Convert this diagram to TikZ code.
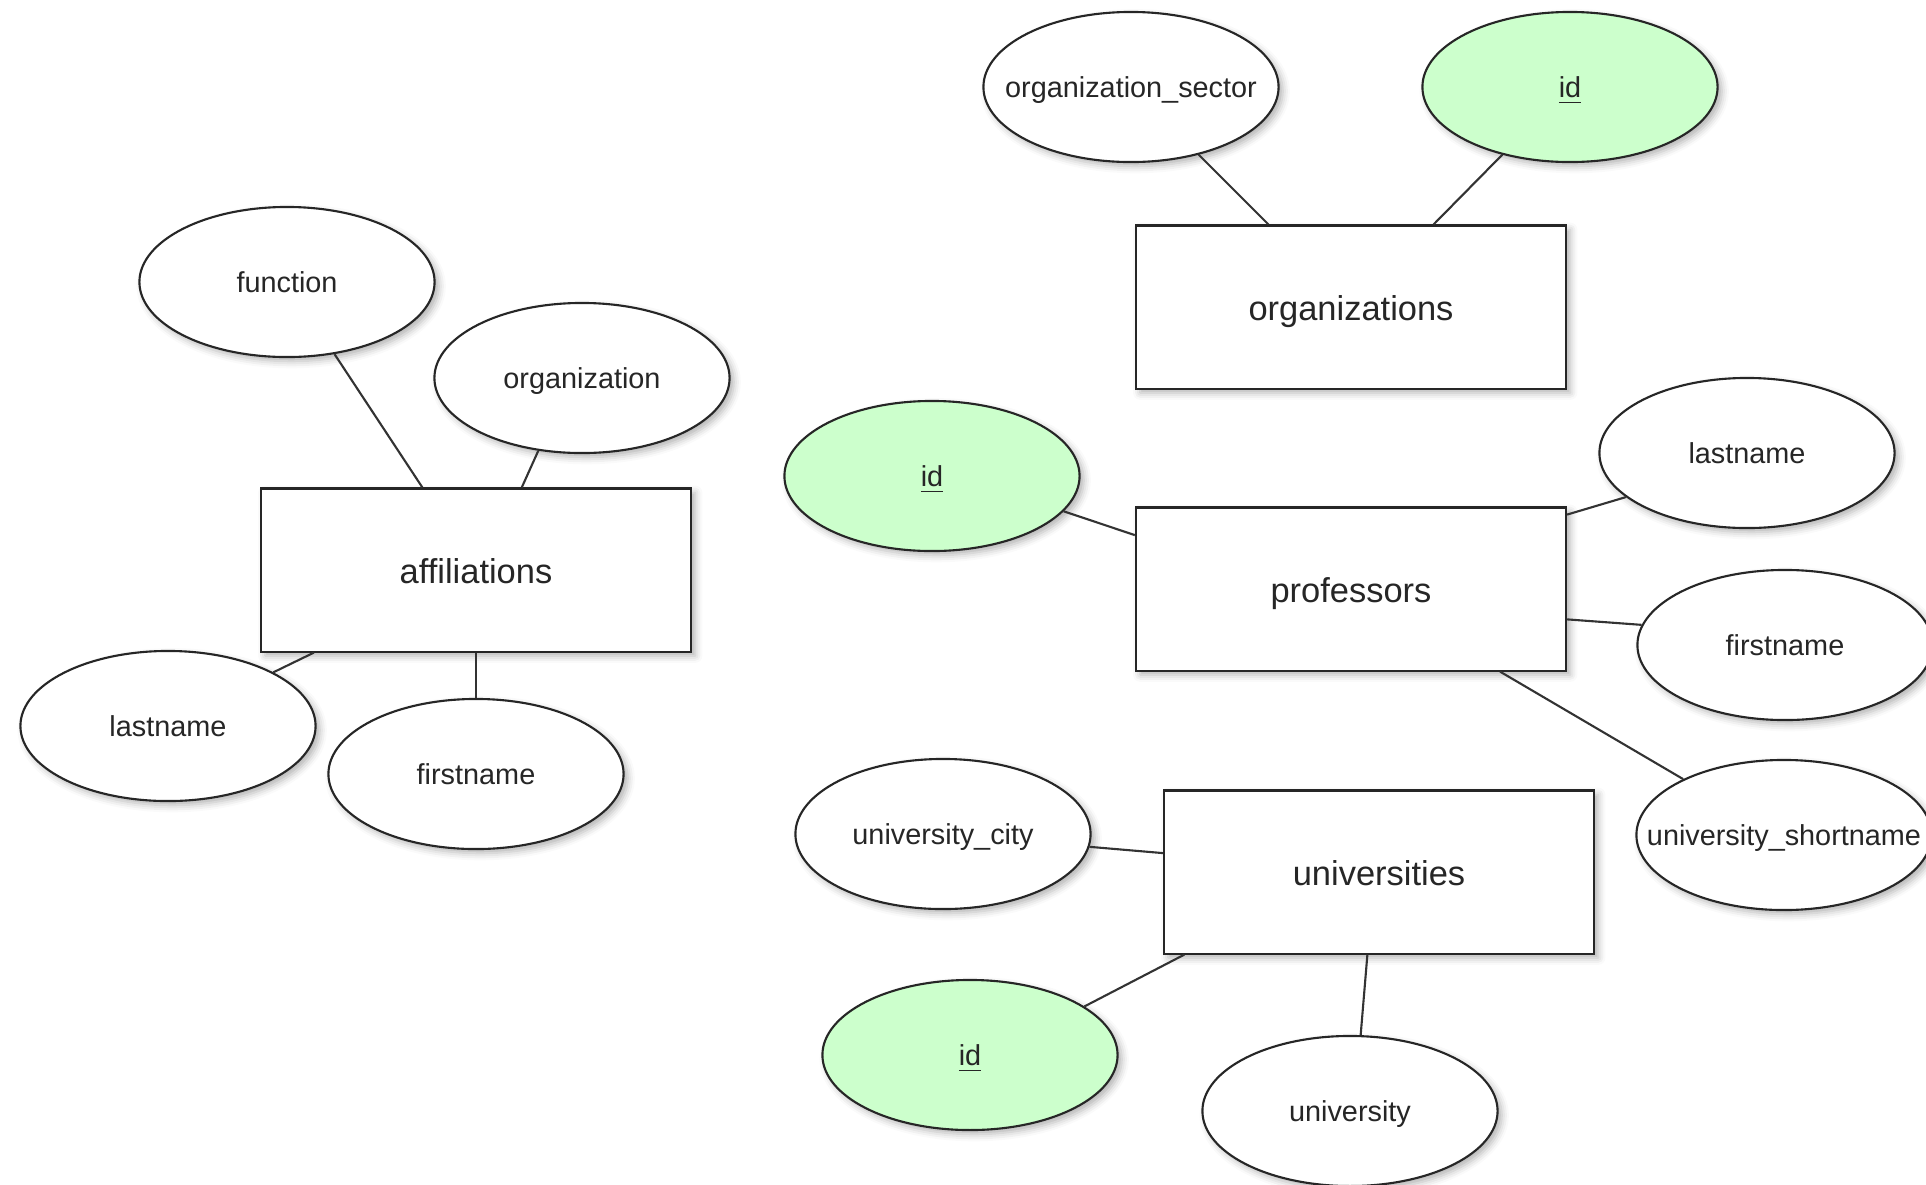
\documentclass[tikz,border=0pt]{standalone}
\usepackage{fontspec}
\setmainfont{Liberation Sans}
\usetikzlibrary{shapes.geometric,shadows.blur}
\definecolor{keygreen}{HTML}{CCFFCC}

\begin{document}
\begin{tikzpicture}[
        x=0.01cm, y=-0.01cm,
        line width=0.6pt,
        soft/.style={blur shadow={shadow xshift=1.2pt, shadow yshift=-1.2pt, shadow blur radius=2pt, shadow opacity=30}},
        attr/.style={ellipse, draw=black!85, fill=white, soft, minimum width=2.95cm, minimum height=1.5cm, inner sep=0pt, text height=0.6em, text depth=0pt, text=black!85, font=\fontsize{8.2}{10}\selectfont},
        wideattr/.style={attr, inner xsep=-0.4cm},
        keyattr/.style={attr, fill=keygreen},
        entity/.style={rectangle, draw=black!85, fill=white, soft, minimum width=4.3cm, minimum height=1.63cm, text height=0.74em, text depth=0pt, text=black!85, font=\fontsize{9.8}{12}\selectfont},
        link/.style={draw=black!80}
    ]
        \useasboundingbox (0,0) rectangle (1926,1184);

        \node[entity] (affiliations) at (476,570) {affiliations};
        \node[attr] (function) at (287,282) {function};
        \node[attr] (organization) at (582,378) {organization};
        \node[attr] (afflastname) at (168,726) {lastname};
        \node[attr] (afffirstname) at (476,774) {firstname};

        \node[entity] (organizations) at (1351,307) {organizations};
        \node[wideattr] (sector) at (1131,87) {organization\_sector};
        \node[keyattr] (orgid) at (1570,87) {\underline{id}};

        \node[entity] (professors) at (1351,589) {professors};
        \node[keyattr] (profid) at (932,476) {\underline{id}};
        \node[attr] (proflastname) at (1747,453) {lastname};
        \node[attr] (proffirstname) at (1785,645) {firstname};
        \node[wideattr] (shortname) at (1784,835) {university\_shortname};

        \node[entity] (universities) at (1379,872) {universities};
        \node[attr] (city) at (943,834) {university\_city};
        \node[keyattr] (uniid) at (970,1055) {\underline{id}};
        \node[attr] (university) at (1350,1111) {university};

        \draw[link] (function) -- (affiliations.123);
        \draw[link] (organization.239) -- (affiliations.61);
        \draw[link] (afflastname.27) -- (affiliations.207);
        \draw[link] (afffirstname.north) -- (affiliations.south);

        \draw[link] (sector.315) -- (organizations.135);
        \draw[link] (orgid.225) -- (organizations.45);

        \draw[link] (profid.345) -- (professors.166);
        \draw[link] (proflastname.200) -- (professors.19);
        \draw[link] (proffirstname.172) -- (professors.352);
        \draw[link] (shortname.151) -- (professors.331);

        \draw[link] (city.355) -- (universities.175);
        \draw[link] (uniid.23) -- (universities.203);
        \draw[link] (university.82) -- (universities.262);
    \end{tikzpicture}
\end{document}
